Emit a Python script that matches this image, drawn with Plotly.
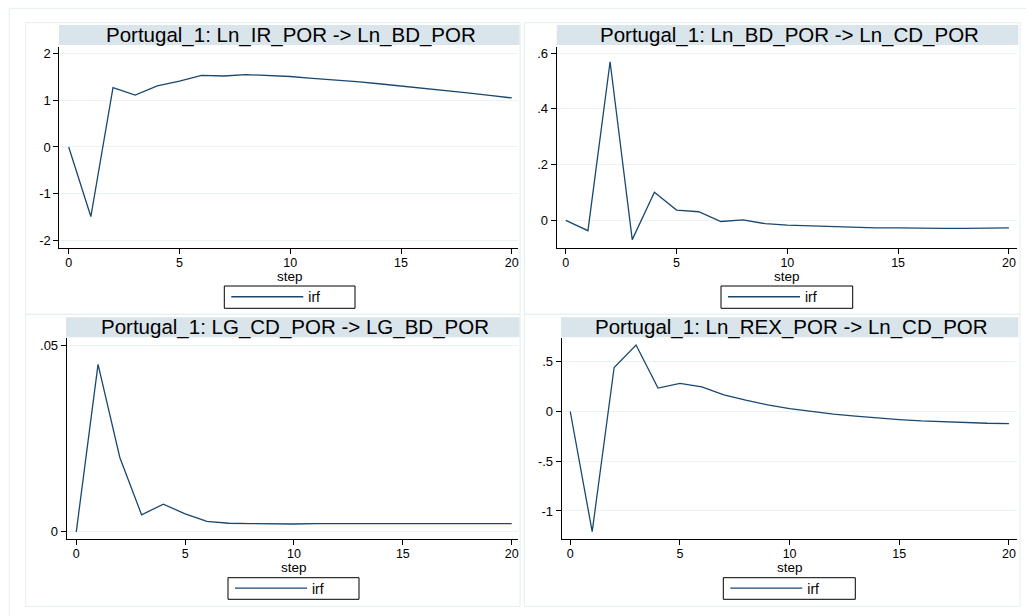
import plotly.graph_objects as go

W, H = 1026, 616

steps = list(range(21))

# Panel titles
titles = [
    "Portugal_1: Ln_IR_POR -> Ln_BD_POR",
    "Portugal_1: Ln_BD_POR -> Ln_CD_POR",
    "Portugal_1: LG_CD_POR -> LG_BD_POR",
    "Portugal_1: Ln_REX_POR -> Ln_CD_POR",
]

# IRF values
irf_ir_bd = [0.0, -1.49, 1.27, 1.11, 1.31, 1.41, 1.535, 1.52, 1.55, 1.53, 1.51,
             1.47, 1.44, 1.40, 1.355, 1.31, 1.26, 1.21, 1.16, 1.105, 1.05]
irf_bd_cd = [0.0, -0.037, 0.569, -0.069, 0.101, 0.037, 0.031, -0.004, 0.002, -0.012, -0.017,
             -0.020, -0.023, -0.025, -0.027, -0.027, -0.029, -0.029, -0.029, -0.029, -0.027]
irf_cd_bd = [0.0, 0.0448, 0.0199, 0.00456, 0.0074, 0.0048, 0.0028, 0.0023, 0.0022, 0.0021, 0.0021,
             0.0022, 0.0022, 0.0022, 0.0022, 0.0023, 0.0023, 0.0023, 0.0023, 0.0023, 0.0022]
irf_rex_cd = [0.0, -1.208, 0.443, 0.668, 0.235, 0.282, 0.248, 0.168, 0.114, 0.067, 0.030,
              0.0, -0.027, -0.047, -0.067, -0.081, -0.094, -0.104, -0.111, -0.118, -0.121]

series = [irf_ir_bd, irf_bd_cd, irf_cd_bd, irf_rex_cd]

x_ticks = [0, 5, 10, 15, 20]
x_title = "step"
legend_name = "irf"
y_tickvals = [
    [-2, -1, 0, 1, 2],
    [0, 0.2, 0.4, 0.6],
    [0, 0.05],
    [-1, -0.5, 0, 0.5],
]
y_ticktext = [
    ["-2", "-1", "0", "1", "2"],
    ["0", ".2", ".4", ".6"],
    ["0", ".05"],
    ["-1", "-.5", "0", ".5"],
]

# layout geometry (pixels)
plot_px = [  # x0, x1, y0(top), y1(bottom)
    (59.3, 518.0, 46.7, 247.7),
    (556.7, 1017.3, 46.7, 247.7),
    (66.7, 518.0, 338.3, 539.3),
    (561.7, 1017.3, 338.3, 539.3),
]
x_ranges = [(-0.424, 20.28), (-0.41, 20.38), (-0.44, 20.29), (-0.39, 20.38)]
y_ranges = [(-2.157, 2.148), (-0.098, 0.623), (-0.002, 0.0518), (-1.285, 0.736)]
bar_px = [  # title bars x0, x1, y0, y1
    (59.0, 519.5, 25.0, 45.0),
    (556.7, 1018.3, 25.0, 45.0),
    (66.0, 519.5, 317.3, 337.3),
    (561.0, 1018.3, 317.3, 337.3),
]
panel_px = [
    (25.7, 520.0, 22.7, 314.3),
    (524.3, 1020.0, 22.7, 314.3),
    (25.7, 520.0, 314.3, 606.5),
    (524.3, 1020.0, 314.3, 606.5),
]
legend_box_px = [  # x0, x1, y0, y1
    (224.3, 355.0, 286.0, 308.3),
    (721.0, 852.7, 286.0, 308.3),
    (228.0, 359.0, 577.7, 599.3),
    (723.3, 855.3, 577.7, 599.3),
]
step_title_y_px = [276.0, 276.0, 567.0, 567.0]


def px_x(v):
    return v / W


def px_y(v):
    return 1 - v / H


NAVY = "#1a476f"
GRID = "#eaf2f3"
BAR = "#d9e5ea"
FRAME = "#e4eef0"
FONT = "Liberation Sans, Arial, sans-serif"

fig = go.Figure()
layout = dict(
    width=W, height=H,
    margin=dict(l=0, r=0, t=0, b=0),
    paper_bgcolor="white", plot_bgcolor="white",
    font=dict(family=FONT, color="black", size=13),
    shapes=[], annotations=[],
)

# outer frame (top and left)
layout["shapes"].append(dict(type="line", xref="paper", yref="paper",
                             x0=px_x(9.3), x1=1.02, y0=px_y(8.3), y1=px_y(8.3),
                             line=dict(color=FRAME, width=1)))
layout["shapes"].append(dict(type="line", xref="paper", yref="paper",
                             x0=px_x(9.3), x1=px_x(9.3), y0=px_y(8.3), y1=-0.02,
                             line=dict(color=FRAME, width=1)))

for i in range(4):
    n = "" if i == 0 else str(i + 1)
    lg = "legend" if i == 0 else f"legend{i + 1}"
    x0, x1, y0, y1 = plot_px[i]
    fig.add_trace(go.Scatter(
        x=steps, y=series[i], mode="lines", name=legend_name,
        line=dict(color=NAVY, width=1.3),
        xaxis="x" + n, yaxis="y" + n, legend=lg, showlegend=True,
    ))
    layout["xaxis" + n] = dict(
        domain=[px_x(x0), px_x(x1)], anchor="y" + n, range=list(x_ranges[i]),
        tickvals=x_ticks, ticktext=[str(t) for t in x_ticks],
        showline=True, linecolor="black", linewidth=1,
        ticks="outside", ticklen=5, tickcolor="black", tickwidth=1,
        showgrid=False, zeroline=False,
        tickfont=dict(size=12.5, family=FONT),
        ticklabelstandoff=-2,
    )
    layout["yaxis" + n] = dict(
        domain=[px_y(y1), px_y(y0)], anchor="x" + n, range=list(y_ranges[i]),
        tickvals=y_tickvals[i], ticktext=y_ticktext[i],
        showline=True, linecolor="black", linewidth=1,
        ticks="outside", ticklen=5, tickcolor="black", tickwidth=1,
        showgrid=True, gridcolor=GRID, gridwidth=1, zeroline=False,
        tickfont=dict(size=13, family=FONT),
    )
    # x axis title
    layout["annotations"].append(dict(
        text=x_title, xref="x" + n, yref="paper", x=10, y=px_y(step_title_y_px[i]),
        xanchor="center", yanchor="middle", showarrow=False,
        font=dict(size=13.5, family=FONT, color="black"),
    ))
    # panel box
    px0, px1, py0, py1 = panel_px[i]
    layout["shapes"].append(dict(type="rect", xref="paper", yref="paper",
                                 x0=px_x(px0), x1=px_x(px1), y0=px_y(py1), y1=px_y(py0),
                                 line=dict(color=FRAME, width=1), fillcolor="rgba(0,0,0,0)",
                                 layer="below"))
    # title bar
    bx0, bx1, by0, by1 = bar_px[i]
    layout["shapes"].append(dict(type="rect", xref="paper", yref="paper",
                                 x0=px_x(bx0), x1=px_x(bx1), y0=px_y(by1), y1=px_y(by0),
                                 line=dict(width=0), fillcolor=BAR, layer="below"))
    layout["annotations"].append(dict(
        text=titles[i], xref="paper", yref="paper",
        x=px_x((bx0 + bx1) / 2 + 2), y=px_y((by0 + by1) / 2),
        xanchor="center", yanchor="middle", showarrow=False,
        font=dict(size=20.5, family=FONT, color="black"),
    ))
    # legend frame + legend
    lx0, lx1, ly0, ly1 = legend_box_px[i]
    layout["shapes"].append(dict(type="rect", xref="paper", yref="paper",
                                 x0=px_x(lx0), x1=px_x(lx1), y0=px_y(ly1), y1=px_y(ly0),
                                 line=dict(color="black", width=1), fillcolor="rgba(0,0,0,0)"))
    layout[lg] = dict(
        x=px_x(lx0 + 2), y=px_y((ly0 + ly1) / 2), xref="paper", yref="paper",
        xanchor="left", yanchor="middle",
        bgcolor="rgba(0,0,0,0)", borderwidth=0,
        font=dict(size=14, family=FONT, color="black"),
        itemwidth=72,
    )

fig.update_layout(**layout)
fig.write_html("out.html")
